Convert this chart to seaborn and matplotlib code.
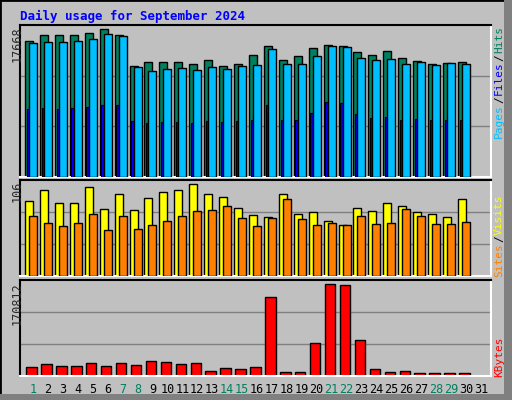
import matplotlib
matplotlib.use("Agg")
import matplotlib.pyplot as plt
import seaborn as sns
import numpy as np
from matplotlib.patches import Rectangle

sns.set_style("white")
plt.rcParams['font.family'] = ['DejaVu Sans Mono', 'DejaVu Sans']

days = list(range(1, 31))
day_labels = [str(d) for d in range(1, 32)]
weekend = [1, 7, 8, 14, 15, 21, 22, 28, 29]

hits = [15770, 16470, 16470, 16470, 16700, 17170, 16470, 12860, 13330, 13330,
        13330, 13090, 13560, 12860, 13090, 14140, 15190, 13560, 14030, 14960,
        15310, 15190, 14490, 14140, 14610, 13790, 13440, 13090, 13210, 13330]
files = [15540, 15660, 15660, 15770, 16010, 16590, 16360, 12750, 12280, 12510,
         12630, 12400, 12750, 12510, 12860, 12980, 14840, 13090, 13090, 14030,
         15190, 15080, 13790, 13560, 13680, 13090, 13330, 12980, 13210, 13090]
pages = [7890, 8000, 7890, 8000, 8120, 8350, 8350, 6490, 6260, 6370,
         6370, 6260, 6490, 6370, 6490, 6610, 8350, 6610, 6610, 7420,
         8700, 8590, 7300, 6840, 6960, 6610, 6720, 6610, 6610, 6610]
visits = [83, 95, 81, 81, 98, 74, 91, 73, 86, 93, 95, 102, 91, 87, 75,
          67, 65, 91, 68, 71, 61, 56, 75, 72, 81, 77, 71, 68, 65, 85]
sites = [66, 59, 55, 59, 68, 51, 66, 52, 56, 61, 66, 72, 73, 77, 64,
         55, 64, 85, 63, 56, 59, 56, 66, 57, 59, 74, 66, 57, 57, 60]
kbytes = [16720, 22100, 18510, 18510, 23890, 18510, 23890, 20300, 27470, 25680,
          22100, 23890, 9560, 14930, 13140, 16720, 140340, 7760, 7760, 57930,
          163630, 161840, 63300, 13140, 7760, 9560, 5970, 5970, 5970, 5970]
max_hits, max_visits, max_kb = 17668, 106, 170812

BG = "#C0C0C0"
fig = plt.figure(figsize=(5.12, 4.0), dpi=100, facecolor=BG)
fig.patches.append(Rectangle((0, 0), 1, 1, transform=fig.transFigure, fill=False,
                             edgecolor="black", linewidth=2))
fig.patches.append(Rectangle((504/512, 0), 8/512, 1, transform=fig.transFigure,
                             facecolor="#808080", edgecolor="none"))
fig.patches.append(Rectangle((0, 0), 1, 6/400, transform=fig.transFigure,
                             facecolor="#808080", edgecolor="none"))

W, H = 512, 400
x0, x1 = 20, 491
xl = (1 - 11/14.93, 1 - 11/14.93 + (x1 - x0)/14.93)

def mkax(ytop, ybot, ymax):
    ax = fig.add_axes([x0/W, (H-ybot)/H, (x1-x0)/W, (ybot-ytop)/H])
    ax.set_facecolor(BG)
    ax.set_xlim(*xl)
    ax.set_ylim(0, ymax)
    for y in (ymax/3, 2*ymax/3):
        ax.axhline(y, color="#808080", linewidth=1, zorder=0)
    ax.set_xticks([]); ax.set_yticks([])
    for s in ("top", "left"):
        ax.spines[s].set_color("black")
    for s in ("bottom", "right"):
        ax.spines[s].set_color("white")
    for s in ax.spines.values():
        s.set_linewidth(1.5)
    return ax

d = np.array(days)
a1 = mkax(25, 177, max_hits)
a1.bar(d - 0.402, hits, width=0.536, align="edge", color="#00805F", edgecolor="black", linewidth=1, zorder=2)
a1.bar(d - 0.288, pages, width=0.19, align="edge", color="#0000FF", edgecolor="black", linewidth=0.8, zorder=3)
a1.bar(d - 0.134, files, width=0.536, align="edge", color="#00BFFF", edgecolor="black", linewidth=1, zorder=4)

a2 = mkax(180, 276, max_visits)
a2.bar(d - 0.402, visits, width=0.536, align="edge", color="#FFFF00", edgecolor="black", linewidth=1, zorder=2)
a2.bar(d - 0.134, sites, width=0.536, align="edge", color="#FF8000", edgecolor="black", linewidth=1, zorder=3)

a3 = mkax(280, 376, max_kb)
a3.bar(d - 0.315, kbytes, width=0.70, align="edge", color="#FF0000", edgecolor="black", linewidth=1, zorder=2)
a3.set_xticks(np.arange(1, 32) + 0.134)
a3.set_xticklabels(day_labels, fontsize=8.5)
a3.tick_params(axis="x", length=0, pad=5)
for t, lab in zip(a3.get_xticklabels(), range(1, 32)):
    t.set_color("#00805F" if lab in weekend else "black")

fig.text(20/W, 1 - 16/H, "Daily usage for September 2024", color="#0000FF",
         fontsize=9, fontweight="bold", va="center", ha="left")

def ylab(txt, ytop):
    fig.text(17/W, 1 - ytop/H, txt, rotation=90, fontsize=8.5, ha="center", va="top")
ylab("17668", 26)
ylab("106", 181)
ylab("170812", 282)

renderer = fig.canvas.get_renderer()

def rlab(parts, ybot):
    y = 1 - ybot/H
    for txt, col in parts:
        t = fig.text(499/W, y, txt, rotation=90, fontsize=8, color=col,
                     ha="center", va="bottom")
        bb = t.get_window_extent(renderer=renderer)
        y += (bb.height + 1) / H

rlab([("Pages", "#00BFFF"), ("/", "black"), ("Files", "#0000FF"), ("/", "black"), ("Hits", "#00805F")], 138)
rlab([("Sites", "#FF8000"), ("/", "black"), ("Visits", "#FFFF00")], 277)
rlab([("KBytes", "#FF0000")], 377)

fig.savefig("out.png", dpi=100, facecolor=BG)
